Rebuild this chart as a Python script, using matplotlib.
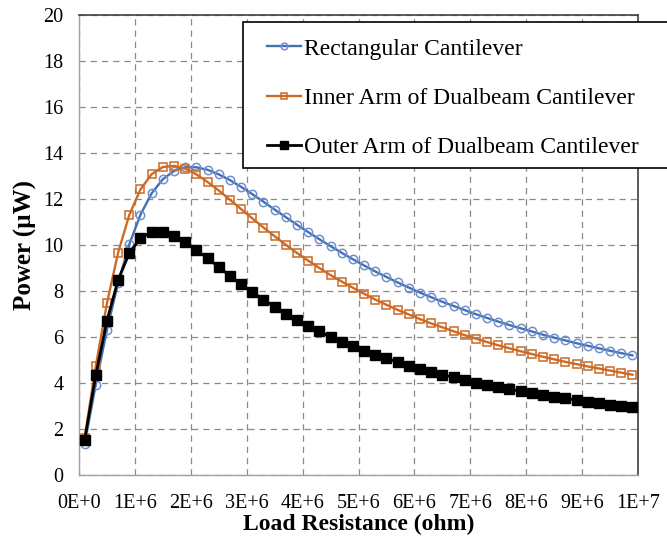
import matplotlib
matplotlib.use("Agg")
import matplotlib.pyplot as plt
from matplotlib.patches import Rectangle

# Load resistance (ohm)
resistance = [0.1e6 + 0.2e6 * k for k in range(50)]

rect_power = [1.34, 3.93, 6.31, 8.36, 10.03, 11.32, 12.25, 12.86, 13.22, 13.38,
              13.38, 13.27, 13.07, 12.82, 12.53, 12.21, 11.88, 11.54, 11.21, 10.88,
              10.56, 10.25, 9.95, 9.66, 9.38, 9.11, 8.85, 8.61, 8.37, 8.15,
              7.93, 7.73, 7.53, 7.35, 7.17, 6.99, 6.83, 6.67, 6.52, 6.38,
              6.24, 6.10, 5.97, 5.85, 5.73, 5.62, 5.51, 5.40, 5.30, 5.20]

inner_power = [1.62, 4.73, 7.47, 9.67, 11.31, 12.42, 13.08, 13.39, 13.44, 13.32,
               13.07, 12.74, 12.37, 11.97, 11.56, 11.16, 10.76, 10.38, 10.01, 9.65,
               9.32, 9.00, 8.69, 8.41, 8.14, 7.88, 7.63, 7.40, 7.18, 6.98,
               6.78, 6.59, 6.42, 6.25, 6.08, 5.93, 5.78, 5.64, 5.51, 5.38,
               5.26, 5.14, 5.03, 4.92, 4.82, 4.72, 4.63, 4.54, 4.45, 4.36]

outer_power = [1.51, 4.34, 6.71, 8.48, 9.65, 10.30, 10.57, 10.57, 10.40, 10.12,
               9.78, 9.42, 9.04, 8.66, 8.30, 7.95, 7.62, 7.31, 7.02, 6.74,
               6.48, 6.24, 6.01, 5.80, 5.60, 5.41, 5.23, 5.07, 4.91, 4.76,
               4.62, 4.49, 4.36, 4.24, 4.13, 4.02, 3.92, 3.82, 3.73, 3.64,
               3.56, 3.48, 3.40, 3.33, 3.25, 3.19, 3.12, 3.06, 3.00, 2.94]

series_labels = ["Rectangular Cantilever",
                 "Inner Arm of Dualbeam Cantilever",
                 "Outer Arm of Dualbeam Cantilever"]

x_ticks = [0, 1e6, 2e6, 3e6, 4e6, 5e6, 6e6, 7e6, 8e6, 9e6, 1e7]
x_tick_labels = ["0E+0", "1E+6", "2E+6", "3E+6", "4E+6", "5E+6",
                 "6E+6", "7E+6", "8E+6", "9E+6", "1E+7"]
y_ticks = [0, 2, 4, 6, 8, 10, 12, 14, 16, 18, 20]

plt.rcParams['font.family'] = ['Liberation Serif', 'DejaVu Serif']

W, H = 667, 536
fig = plt.figure(figsize=(W / 100, H / 100), dpi=100)
L, R, T, B = 79, 638, 15, 475
ax = fig.add_axes([L / W, 1 - B / H, (R - L) / W, (B - T) / H])

blue = '#4570B5'
orange = '#CC6A26'

ax.plot(resistance, rect_power, color=blue, lw=1.7, marker='o', ms=6,
        mfc='none', mec='#6F90CC', mew=1.1, label=series_labels[0], zorder=4)
ax.plot(resistance, inner_power, color=orange, lw=1.7, marker='s', ms=6,
        mfc='none', mec=orange, mew=1.1, label=series_labels[1], zorder=4)
ax.plot(resistance, outer_power, color='black', lw=2.0, marker='s', ms=7,
        mfc='black', mec='black', label=series_labels[2], zorder=4)

ax.set_xlim(0, 1e7)
ax.set_ylim(0, 20)
ax.set_xticks(x_ticks)
ax.set_xticklabels(x_tick_labels)
ax.set_yticks(y_ticks)
ax.tick_params(axis='both', length=0, labelsize=14.5)
ax.tick_params(axis='x', pad=14)
ax.tick_params(axis='y', pad=11)

ax.grid(True, color='#8a8a8a', linestyle=(0, (5, 4)), linewidth=0.9)
ax.set_axisbelow(True)
for side in ['left', 'bottom']:
    ax.spines[side].set_color('#a0a0a0')
    ax.spines[side].set_linewidth(1.0)
for side in ['top', 'right']:
    ax.spines[side].set_color('#404040')
    ax.spines[side].set_linewidth(1.2)

ax.set_xlabel("Load Resistance (ohm)", fontsize=17, fontweight='bold', labelpad=0)
ax.set_ylabel("Power (µW)", fontsize=18, fontweight='bold', labelpad=5)

# legend box (extends past the right edge like the reference)
box = Rectangle((243 / W, 1 - 168 / H), (720 - 243) / W, (168 - 22) / H,
                transform=fig.transFigure, facecolor='white', edgecolor='black',
                linewidth=1.2, zorder=8, clip_on=False)
fig.patches.append(box)

leg = fig.legend(loc='upper left', bbox_to_anchor=(267 / W, 1 - 38 / H),
                 bbox_transform=fig.transFigure, frameon=False,
                 fontsize=17, handlelength=1.45, handletextpad=0.1,
                 labelspacing=1.18, borderpad=0, borderaxespad=0,
                 markerscale=0.8)
leg.set_zorder(10)

fig.savefig("out.png", dpi=100)
